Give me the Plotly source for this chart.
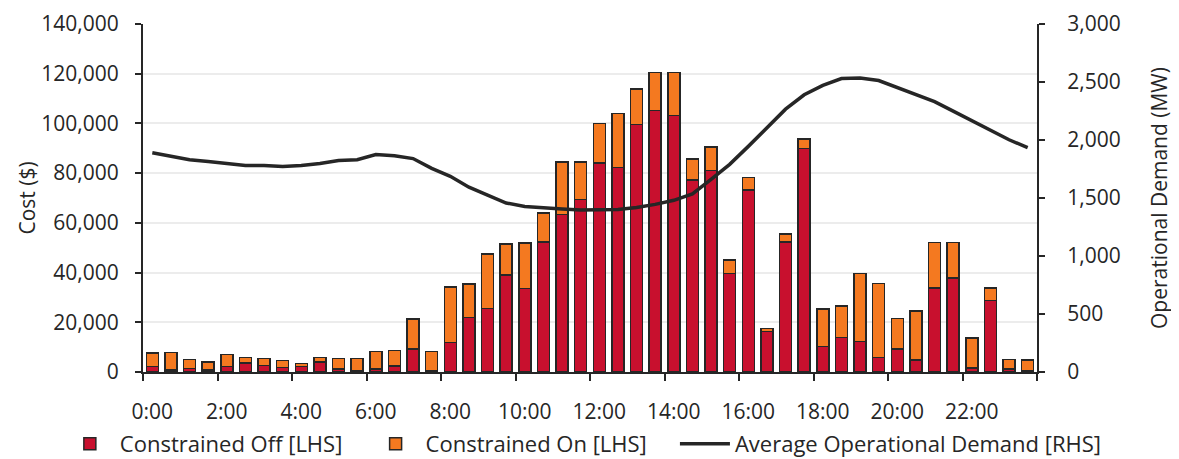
import plotly.graph_objects as go

times = [f"{h}:{m:02d}" for h in range(24) for m in (0, 30)]
tick_labels = ["0:00", "2:00", "4:00", "6:00", "8:00", "10:00", "12:00",
               "14:00", "16:00", "18:00", "20:00", "22:00"]

constrained_off = [2200, 800, 1400, 800, 2200, 3700, 2700, 1800, 2300, 4100, 1200, 600,
                   1200, 2400, 9300, 500, 11800, 21900, 25600, 39000, 33600, 52300, 63400, 69300,
                   84100, 82300, 99500, 105200, 103200, 77200, 81100, 39700, 73200, 16200, 52300, 90000,
                   10200, 13900, 12200, 5900, 9300, 4900, 33800, 37800, 1700, 28800, 1300, 700]

constrained_on = [5500, 7100, 3600, 3300, 4900, 2100, 2700, 2800, 1200, 1800, 4300, 4900,
                  7100, 6300, 12100, 7800, 22400, 13600, 21900, 12500, 18300, 11600, 21000, 15100,
                  15900, 21700, 14400, 15200, 17200, 8500, 9500, 5300, 5100, 1300, 3300, 3700,
                  15200, 12600, 27500, 29800, 12300, 19700, 18400, 14400, 12000, 5000, 3700, 4200]

demand = [1890, 1857, 1830, 1815, 1797, 1780, 1780, 1772, 1780, 1797, 1823, 1830,
          1874, 1865, 1840, 1755, 1687, 1593, 1525, 1457, 1427, 1414, 1406, 1397,
          1395, 1400, 1418, 1445, 1480, 1535, 1660, 1790, 1945, 2105, 2266, 2390,
          2471, 2530, 2535, 2513, 2454, 2394, 2330, 2249, 2164, 2079, 2002, 1934]

xs = list(range(len(times)))
label_pos = [times.index(t) for t in tick_labels]
boundaries = [i - 0.5 for i in range(0, len(times) + 1, 4)]
xrange = [-0.5, len(times) - 0.5]

RED = "#C8102E"
ORANGE = "#F47920"
DARK = "#262626"
FONT = "Open Sans"

fig = go.Figure()
fig.add_trace(go.Bar(x=xs, y=constrained_off, name="Constrained Off [LHS]",
                     marker=dict(color=RED, line=dict(color=DARK, width=1.5)),
                     customdata=times, legend="legend"))
fig.add_trace(go.Bar(x=xs, y=constrained_on, name="Constrained On [LHS]",
                     marker=dict(color=ORANGE, line=dict(color=DARK, width=1.5)),
                     customdata=times, legend="legend2"))
fig.add_trace(go.Scatter(x=xs, y=demand, name="Average Operational Demand [RHS]",
                         mode="lines", line=dict(color=DARK, width=3.5),
                         xaxis="x2", yaxis="y2", legend="legend3"))

# page has an 8px body margin, so the figure is drawn 8px in from the top-left
W, H = 1171, 451
leg_common = dict(orientation="h", xanchor="left", yref="container",
                  y=(H - 436) / H, yanchor="middle",
                  font=dict(size=22, color=DARK), itemwidth=50,
                  bgcolor="rgba(0,0,0,0)", borderwidth=0)

fig.update_layout(
    width=W, height=H,
    margin=dict(l=135, r=142, t=16, b=87),
    barmode="stack", bargap=0.35,
    plot_bgcolor="white", paper_bgcolor="white",
    font=dict(family=FONT, size=21, color=DARK),
    showlegend=True,
    legend=dict(x=-0.093, **leg_common),
    legend2=dict(x=0.249, **leg_common),
    legend3=dict(x=0.595, **leg_common),
    xaxis=dict(range=xrange, tickmode="array",
               tickvals=label_pos, ticktext=tick_labels, ticks="outside",
               ticklen=0, tickcolor=DARK,
               showline=True, linecolor=DARK, linewidth=2, showgrid=False,
               zeroline=False, ticklabelstandoff=20, automargin=False,
               minor=dict(tickmode="array", tickvals=boundaries, ticks="outside",
                          ticklen=7, tickcolor=DARK, tickwidth=1.5, showgrid=False)),
    xaxis2=dict(range=xrange, overlaying="x", anchor="y", side="bottom",
                tickmode="array", tickvals=boundaries, ticks="outside",
                ticklen=7, tickcolor=DARK, tickwidth=1.5, showticklabels=False,
                showline=False, showgrid=False, zeroline=False, automargin=False),
    yaxis=dict(range=[0, 140000], dtick=20000, tickformat=",", ticks="outside",
               ticklen=6, tickcolor=DARK, tickwidth=1.5,
               showline=True, linecolor=DARK, linewidth=2,
               showgrid=True, gridcolor="#ECECEC", gridwidth=2, zeroline=False,
               ticklabelstandoff=12, automargin=False, ticklabeloverflow="allow",
               title=dict(text="Cost ($)", standoff=0, font=dict(size=21))),
    yaxis2=dict(range=[0, 3000], dtick=500, tickformat=",", overlaying="y", side="right",
                anchor="x",
                ticks="outside", ticklen=6, tickcolor=DARK, tickwidth=1.5,
                showline=True, linecolor=DARK, linewidth=2, showgrid=False,
                zeroline=False, ticklabelstandoff=18, automargin=False,
                ticklabeloverflow="allow",
                title=dict(text="Operational Demand (MW)", standoff=33, font=dict(size=21))),
)

fig.write_html("out.html")
